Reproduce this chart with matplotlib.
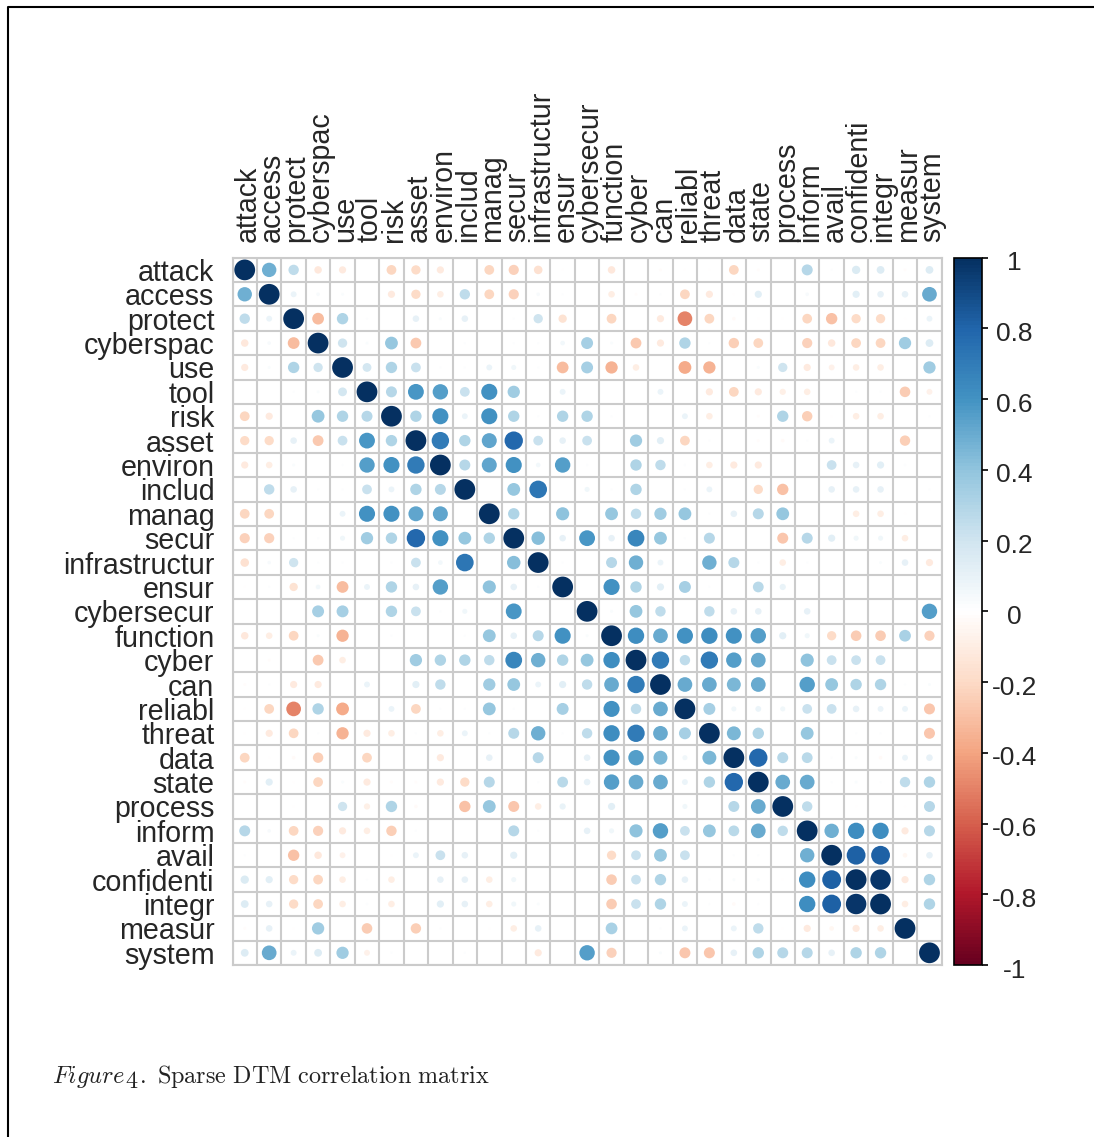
import matplotlib
matplotlib.use('Agg')
import matplotlib.pyplot as plt
import numpy as np
from matplotlib.colors import LinearSegmentedColormap, Normalize
from matplotlib.cm import ScalarMappable
from matplotlib.lines import Line2D
from matplotlib.patches import Circle
from matplotlib.transforms import ScaledTranslation

terms = ['attack', 'access', 'protect', 'cyberspac', 'use', 'tool', 'risk', 'asset', 'environ',
         'includ', 'manag', 'secur', 'infrastructur', 'ensur', 'cybersecur', 'function', 'cyber',
         'can', 'reliabl', 'threat', 'data', 'state', 'process', 'inform', 'avail', 'confidenti',
         'integr', 'measur', 'system']

# upper triangle only, each row starts on the diagonal
attack = [1, .48, .25, -.13, -.12, 0, -.22, -.2, -.12, 0, -.22, -.24, -.17, -.01, 0, -.13, 0, -.02, -.01, -.01, -.22, -.02, 0, .28, .01, .16, .14, -.02, .14]
access = [1, .08, .03, .02, 0, -.12, -.2, -.1, .25, -.22, -.24, .03, .01, 0, -.1, -.02, .01, -.22, -.12, -.01, .12, 0, .03, 0, .12, .1, .1, .5]
protect = [1, -.32, .3, .01, 0, .1, .02, .1, 0, .01, .2, -.16, 0, -.22, 0, -.12, -.5, -.22, -.03, -.01, -.01, -.22, -.3, -.2, -.2, -.01, .08]
cyberspac = [1, .2, .02, .38, -.27, 0, .01, 0, .01, .01, .05, .33, .02, -.27, -.12, .3, .01, -.25, -.22, 0, -.24, -.13, -.22, -.22, .35, .14]
use = [1, .18, .3, .22, .01, .01, .08, .06, .01, -.32, .33, -.35, -.1, 0, -.38, -.35, 0, .02, .2, -.12, -.08, -.1, -.1, 0, .35]
tool = [1, .28, .58, .55, .22, .6, .35, 0, .08, 0, 0, 0, .08, 0, -.12, -.22, -.12, -.09, -.1, 0, .01, .01, -.26, -.08]
risk = [1, .3, .6, .08, .6, .3, .01, .3, .3, .01, 0, 0, .08, -.1, 0, -.02, .3, -.25, -.01, -.1, -.1, 0, .01]
asset = [1, .7, .3, .52, .78, .22, .1, .22, 0, .35, .12, -.22, .01, 0, -.02, -.03, .01, .08, 0, 0, -.25, 0]
environ = [1, .28, .52, .6, .05, .55, .01, 0, .3, .25, .01, -.1, -.12, -.12, 0, 0, .22, .1, .12, .01, 0]
includ = [1, 0, .38, .72, 0, .06, .01, .3, 0, .01, .08, 0, -.2, -.3, 0, .1, .1, .1, 0, .01]
manag = [1, .3, 0, .4, 0, .38, .25, .35, .38, .01, .1, .28, .38, 0, 0, -.1, -.1, -.01, 0]
secur = [1, .42, .1, .58, .1, .65, .38, .01, .28, 0, 0, -.28, .28, .12, .06, .06, -.1, 0]
infrastructur = [1, .01, 0, .28, .48, .08, 0, .48, .28, .01, -.1, .01, 0, 0, .02, .1, -.12]
ensur = [1, 0, .6, .3, .12, .33, .01, 0, .27, .09, 0, 0, 0, 0, 0, 0]
cybersecur = [1, .02, .38, .25, 0, .25, .1, .1, 0, .1, 0, 0, 0, 0, .55]
function = [1, .62, .5, .6, .62, .6, .55, .12, .06, -.2, -.26, -.26, .32, -.24]
cyber = [1, .7, .25, .7, .55, .5, 0, .4, .22, .22, .22, 0, 0]
can = [1, .5, .5, .45, .5, 0, .55, .38, .3, .3, .01, .02]
reliabl = [1, .33, .06, .08, .06, .22, .22, .1, .08, .08, -.28]
threat = [1, .45, .3, 0, .38, 0, .01, .01, 0, -.28]
data = [1, .78, .28, .27, .01, .02, -.03, .08, .1]
state = [1, .5, .5, .01, .02, .01, .25, .3]
process = [1, .25, 0, -.01, 0, -.01, .28]
inform = [1, .48, .62, .62, -.12, .28]
avail = [1, .82, .82, -.05, .1]
confidenti = [1, .97, -.12, .3]
integr = [1, -.1, .3]
measur = [1, 0]
system = [1]

rows = [attack, access, protect, cyberspac, use, tool, risk, asset, environ, includ, manag, secur,
        infrastructur, ensur, cybersecur, function, cyber, can, reliabl, threat, data, state,
        process, inform, avail, confidenti, integr, measur, system]

bar_ticks = [1, .8, .6, .4, .2, 0, -.2, -.4, -.6, -.8, -1]
bar_labels = ['1', '0.8', '0.6', '0.4', '0.2', '0', '-0.2', '-0.4', '-0.6', '-0.8', '-1']

W, H = 1094, 1137
n = len(terms)
corr = np.zeros((n, n))
for i, row in enumerate(rows):
    corr[i, i:] = row
    corr[i:, i] = row

# same colours corrplot uses for RdBu
cmap = LinearSegmentedColormap.from_list('corr', ['#67001F', '#B2182B', '#D6604D', '#F4A582', '#FDDBC7', '#FFFFFF',
                                                  '#D1E5F0', '#92C5DE', '#4393C3', '#2166AC', '#053061'], 200)
norm = Normalize(-1, 1)
plt.rcParams['font.family'] = ['Liberation Sans', 'DejaVu Sans']
plt.rcParams['mathtext.fontset'] = 'cm'

fig = plt.figure(figsize=(W / 100, H / 100), dpi=100)
ax = fig.add_axes([232.5 / W, 1 - 965 / H, 709.2 / W, 707.3 / H])
ax.set_xlim(0, n)
ax.set_ylim(n, 0)

for i in range(n):
    for j in range(n):
        r = corr[i, j]
        if r != 0:
            ax.add_patch(Circle((j + .5, i + .5), .425 * np.sqrt(abs(r)), color=cmap(norm(r)), lw=0, zorder=3))

ax.set_xticks(np.arange(n) + .5, terms, rotation=90, fontsize=20.6)
ax.set_yticks(np.arange(n) + .5, terms, fontsize=20.6)
ax.set_xticks(np.arange(n + 1), minor=True)
ax.set_yticks(np.arange(n + 1), minor=True)
ax.xaxis.tick_top()
ax.tick_params(which='both', length=0)
ax.tick_params(axis='x', pad=11.5, colors='#262626')
ax.tick_params(axis='y', pad=13, colors='#262626')
ax.grid(which='minor', color='#CBCBCB', lw=1.5, zorder=1)
ax.set_axisbelow(True)
for s in ax.spines.values():
    s.set_color('#CBCBCB')
    s.set_linewidth(1.5)
for lab in ax.get_xticklabels():
    lab.set_transform(lab.get_transform() + ScaledTranslation(.03, 0, fig.dpi_scale_trans))

cax = fig.add_axes([953.5 / W, 1 - 965 / H, 28 / W, 707.3 / H])
cb = fig.colorbar(ScalarMappable(norm=norm, cmap=cmap), cax=cax, ticks=bar_ticks)
cb.ax.set_yticklabels(bar_labels, fontsize=19, color='#262626', ha='center')
cb.ax.tick_params(length=4, width=1.2, pad=19.5)
cb.outline.set_linewidth(1.2)
for lab in cb.ax.get_yticklabels():
    lab.set_transform(lab.get_transform() + ScaledTranslation(0, -.03, fig.dpi_scale_trans))

# outer frame of the page, only top and left show
fig.add_artist(Line2D([8 / W, 8 / W, 1], [0, 1 - 7 / H, 1 - 7 / H], color='black', lw=1.5))

# caption pieces, cmmi10 gives the old style italic 4
cap_y = 1 - 1083 / H
fig.text(52 / W, cap_y, r'$\mathit{Figure}$', fontsize=17.6, color='#222222')
fig.text(125 / W, cap_y, '4', family='cmmi10', fontsize=17.6, color='#222222')
fig.text(139 / W, cap_y, r'$.$', fontsize=17.6, color='#222222')
fig.text(157 / W, cap_y, r'$\mathrm{Sparse\ DTM\ correlation\ matrix}$', fontsize=17.4, color='#222222')

fig.savefig('out.png', dpi=100)
